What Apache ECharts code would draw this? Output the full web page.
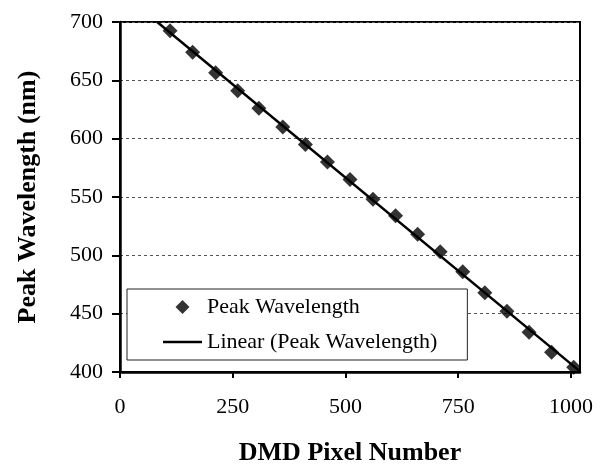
<!DOCTYPE html>
<html>
<head>
<meta charset="utf-8">
<script src="https://cdn.jsdelivr.net/npm/echarts@6/dist/echarts.min.js"></script>
<style>
  html, body { margin: 0; padding: 0; background: #fff; }
  #chart { width: 600px; height: 466px; }
</style>
</head>
<body>
<div id="chart"></div>
<script>
// 数据：DMD 像素编号与峰值波长
const pixelNumber = [111, 161, 212, 261, 308, 361, 411, 460, 510, 561, 611, 660, 710, 760, 809, 858, 907, 957, 1006];
const peakWavelength = [692.5, 674, 656.5, 641, 626, 610, 595, 580, 565, 548, 534, 518, 503, 486, 468, 452, 434, 417, 404];

const xRange = [0, 1020];
const yRange = [400, 700];

// 线性趋势线 (最小二乘拟合，裁剪到绘图区)
function linearFit(xs, ys) {
  const n = xs.length;
  let sx = 0, sy = 0, sxx = 0, sxy = 0;
  for (let i = 0; i < n; i++) {
    sx += xs[i]; sy += ys[i];
    sxx += xs[i] * xs[i]; sxy += xs[i] * ys[i];
  }
  const k = (n * sxy - sx * sy) / (n * sxx - sx * sx);
  const b = (sy - k * sx) / n;
  return { k, b };
}
const fit = linearFit(pixelNumber, peakWavelength);
function clipEnd(xEdge) {
  const y = fit.k * xEdge + fit.b;
  if (y > yRange[1]) return [(yRange[1] - fit.b) / fit.k, yRange[1]];
  if (y < yRange[0]) return [(yRange[0] - fit.b) / fit.k, yRange[0]];
  return [xEdge, y];
}
const trendLine = [clipEnd(xRange[0]), clipEnd(xRange[1])];

const serif = '"Liberation Serif", "DejaVu Serif", serif';

// 图例图标：用不可见的 moveTo 撑开包围盒，保持菱形不被拉伸
const diamondIcon = 'path://M0,0 M39,0 M39,14 M0,14 M12.5,7 L19.5,0 L26.5,7 L19.5,14 Z';
const lineIcon = 'path://M0,0 M39,0 M39,14 M0,14 M0,5.75 L39,5.75 L39,8.25 L0,8.25 Z';

const chart = echarts.init(document.getElementById('chart'));
const option = {
  backgroundColor: '#fff',
  animation: false,
  grid: {
    left: 120,
    top: 22,
    right: 20,
    bottom: 94,
    outerBoundsMode: 'none',
    containLabel: false,
    show: true,
    borderColor: '#000',
    borderWidth: 2
  },
  legend: {
    orient: 'vertical',
    left: 127,
    top: 289,
    padding: [7, 30, 7, 36],
    itemGap: 13,
    itemWidth: 39,
    itemHeight: 14,
    backgroundColor: '#fff',
    borderColor: '#222',
    borderWidth: 1,
    textStyle: { fontFamily: serif, fontSize: 22, color: '#000' },
    data: [
      { name: 'Peak Wavelength', icon: diamondIcon },
      { name: 'Linear (Peak Wavelength)', icon: lineIcon }
    ]
  },
  xAxis: {
    type: 'value',
    min: xRange[0],
    max: xRange[1],
    interval: 250,
    name: 'DMD Pixel Number',
    nameLocation: 'middle',
    nameGap: 68,
    nameTextStyle: { fontFamily: serif, fontSize: 26, fontWeight: 'bold', color: '#000' },
    axisLine: { onZero: false, lineStyle: { color: '#000', width: 2.5 } },
    axisTick: { length: 6, lineStyle: { color: '#000', width: 2 } },
    axisLabel: {
      showMaxLabel: false,
      margin: 24,
      fontFamily: serif,
      fontSize: 22,
      color: '#000',
      formatter: (v) => String(v)
    },
    splitLine: { show: false }
  },
  yAxis: {
    type: 'value',
    min: yRange[0],
    max: yRange[1],
    interval: 50,
    name: 'Peak Wavelength (nm)',
    nameLocation: 'middle',
    nameGap: 79,
    nameTextStyle: { fontFamily: serif, fontSize: 26, fontWeight: 'bold', color: '#000' },
    axisLine: { onZero: false, lineStyle: { color: '#000', width: 2.5 } },
    axisTick: { length: 8, lineStyle: { color: '#000', width: 2 } },
    axisLabel: { margin: 17, fontFamily: serif, fontSize: 22, color: '#000' },
    splitLine: { show: true, lineStyle: { color: '#555', type: [3, 3], width: 1 } }
  },
  series: [
    {
      name: 'Linear (Peak Wavelength)',
      type: 'line',
      data: trendLine,
      symbol: 'none',
      lineStyle: { color: '#000', width: 2.5 },
      itemStyle: { color: '#000' },
      z: 2
    },
    {
      name: 'Peak Wavelength',
      type: 'scatter',
      data: pixelNumber.map((x, i) => [x, peakWavelength[i]]),
      symbol: 'diamond',
      symbolSize: 15,
      itemStyle: { color: '#000' },
      z: 3
    }
  ]
};
chart.setOption(option);
window.addEventListener('resize', () => chart.resize());
</script>
</body>
</html>
